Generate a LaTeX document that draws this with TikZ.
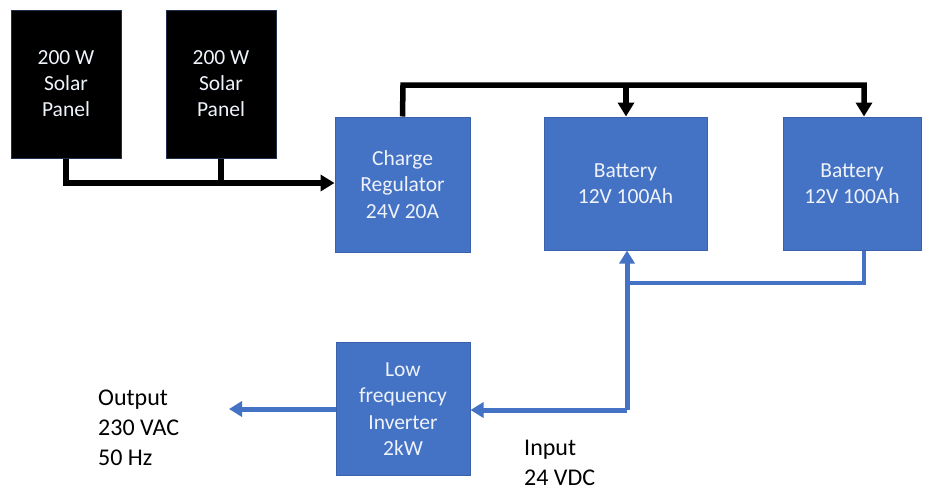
\documentclass[tikz,border=0pt]{standalone}
\usepackage{fontspec}
\setmainfont{Carlito}
\usetikzlibrary{arrows.meta,calc}
\definecolor{boxblue}{HTML}{4472C4}
\definecolor{boxedge}{HTML}{3A62AC}
\definecolor{paneledge}{HTML}{1F3050}
\definecolor{txtwhite}{HTML}{EEF2FA}
\begin{document}
\begin{tikzpicture}[x=1pt,y=-1pt,
  panel/.style={draw=paneledge,line width=1pt,fill=black,text=txtwhite,align=center,
    minimum width=110pt,minimum height=148pt,inner sep=0pt,
    font=\fontsize{21.5}{26}\selectfont},
  bluebox/.style={draw=boxedge,line width=1pt,fill=boxblue,text=txtwhite,align=center,
    inner sep=0pt,font=\fontsize{21.5}{26.5}\selectfont},
  blackline/.style={draw=black,line width=5.5pt},
  blueline/.style={draw=boxblue,line width=5pt},
  thinblue/.style={draw=boxblue,line width=4pt},
  blacktip/.style={-{Triangle[length=14pt,width=16pt]}},
  bluetip/.style={-{Triangle[length=13pt,width=15pt]}},
  label/.style={align=left,anchor=west,inner sep=0pt,font=\fontsize{24}{30}\selectfont}
]
\useasboundingbox (0,0) rectangle (936,491);
\fill[white] (0,0) rectangle (936,491);

\node[panel] (p1) at (66,84) {200 W\\Solar\\Panel};
\node[panel] (p2) at (221,84) {200 W\\Solar\\Panel};

\node[bluebox,minimum width=135pt,minimum height=135pt] (reg) at (402.5,184.5) {Charge\\Regulator\\24V 20A};
\node[bluebox,minimum width=163pt,minimum height=133pt] (b1) at (625.5,183.5) {Battery\\12V 100Ah};
\node[bluebox,minimum width=138pt,minimum height=133pt] (b2) at (852,183.5) {Battery\\12V 100Ah};
\node[bluebox,minimum width=134pt,minimum height=133pt] (inv) at (403,409) {Low\\frequency\\Inverter\\2kW};

\node[label] (out) at (98,428) {Output\\230 VAC\\50 Hz};
\node[label] (inp) at (524,463) {Input\\24 VDC};

% black connectors
\coordinate (pj) at (66,183);
\coordinate (top) at (403,85);
\coordinate (j1) at (626,85);
\coordinate (j2) at (864,85);
\draw[blackline,line join=miter] (p1.south) -- (pj) -- (pj -| p2.south);
\draw[blackline,blacktip] (pj -| p2.south) -- (pj -| reg.west);
\draw[blackline] (p2.south) -- (pj -| p2.south);
\draw[blackline,blacktip,line join=miter] (reg.north) -- (top) -- (j2) -- (j2 |- b2.north);
\draw[blackline,blacktip] (j1) -- (j1 |- b1.north);

% blue connectors
\coordinate (bj) at (627,410);
\coordinate (bh) at (864,283);
\draw[thinblue,line join=miter] (bh |- b2.south) -- (bh) -- (bh -| bj);
\draw[blueline,bluetip] (bj) -- (bj |- b1.south);
\draw[blueline,bluetip,line join=miter] (bj) -- (bj -| inv.east);
\coordinate (outtip) at (229,409);
\draw[blueline,bluetip] (inv.west) -- (outtip);
\end{tikzpicture}
\end{document}
